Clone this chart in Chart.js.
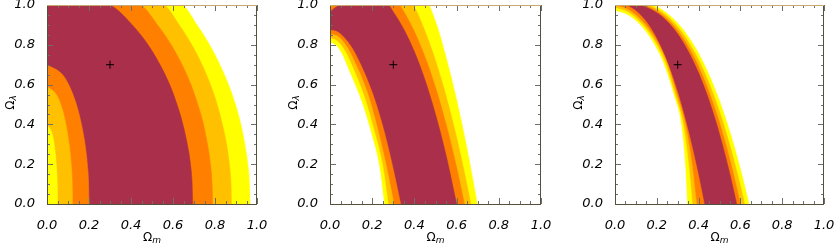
<!DOCTYPE html>
<html><head><meta charset="utf-8">
<script src="https://cdn.jsdelivr.net/npm/chart.js@4.4.1/dist/chart.umd.min.js"></script>
<style>
html,body{margin:0;padding:0;background:#fff;}
#wrap{position:relative;width:835px;height:243px;overflow:hidden;background:#fff;}
canvas{position:absolute;top:0;}
</style></head><body>
<div id="wrap">
<canvas id="c1" width="271" height="243" style="left:0px"></canvas>
<canvas id="c2" width="272" height="243" style="left:283px"></canvas>
<canvas id="c3" width="270" height="243" style="left:568px"></canvas>
</div>
<script>
// ---------- data ----------
const xTickValues = [0, 0.2, 0.4, 0.6, 0.8, 1.0];
const yTickValues = [0, 0.2, 0.4, 0.6, 0.8, 1.0];
const xTitle = ['Ω', 'm'];
const yTitle = ['Ω', 'λ'];
const bestFit = [[0.3, 0.7]];
const bandColors = ['#ffff00', '#ffc000', '#ff7f00', '#aa2f4a'];

// Panel 1 : outer boundaries (yellow, gold, orange, crimson)
const p1OuterYellow  = [[0,1.05],[0.641,1.0],[0.714,0.9],[0.774,0.8],[0.823,0.7],[0.864,0.6],[0.897,0.5],[0.923,0.4],[0.942,0.3],[0.956,0.2],[0.964,0.1],[0.967,0]];
const p1OuterGold    = [[0,1.05],[0.554,1.0],[0.629,0.9],[0.689,0.8],[0.738,0.7],[0.778,0.6],[0.810,0.5],[0.835,0.4],[0.855,0.3],[0.868,0.2],[0.876,0.1],[0.879,0]];
const p1OuterOrange  = [[0,1.05],[0.443,1.0],[0.526,0.9],[0.591,0.8],[0.643,0.7],[0.685,0.6],[0.718,0.5],[0.745,0.4],[0.764,0.3],[0.778,0.2],[0.786,0.1],[0.789,0]];
const p1OuterCrimson = [[0,1.05],[0.300,1.0],[0.406,0.9],[0.481,0.8],[0.538,0.7],[0.584,0.6],[0.619,0.5],[0.647,0.4],[0.668,0.3],[0.683,0.2],[0.691,0.1],[0.694,0]];
// Panel 1 : inner boundaries (orange, gold, yellow)
const p1InnerOrange  = [[0,0.70],[0.074,0.65],[0.103,0.6],[0.140,0.5],[0.164,0.4],[0.181,0.3],[0.192,0.2],[0.198,0.1],[0.200,0]];
const p1InnerGold    = [[0,0.59],[0.044,0.55],[0.065,0.5],[0.090,0.4],[0.105,0.3],[0.115,0.2],[0.120,0.1],[0.122,0]];
const p1InnerYellow  = [[0,0.40],[0.025,0.35],[0.034,0.3],[0.044,0.2],[0.049,0.1],[0.051,0]];

// Panel 2
const p2OuterYellow  = [[0,1.02],[0.2,1.09],[0.42,1.08],[0.5,0.917],[0.55,0.736],[0.6,0.522],[0.65,0.273],[0.698,0]];
const p2OuterGold    = [[0,1.0],[0.15,1.07],[0.35,1.05],[0.4,0.989],[0.45,0.868],[0.5,0.720],[0.55,0.542],[0.6,0.333],[0.65,0.091],[0.667,0]];
const p2OuterOrange  = [[0,0.985],[0.02,1.0],[0.15,1.05],[0.3,1.04],[0.35,0.966],[0.4,0.865],[0.45,0.739],[0.5,0.585],[0.55,0.400],[0.6,0.183],[0.637,0]];
const p2OuterCrimson = [[0,0.965],[0.03,0.99],[0.08,1.01],[0.15,1.03],[0.25,1.03],[0.3,0.965],[0.35,0.877],[0.4,0.765],[0.45,0.623],[0.5,0.450],[0.55,0.244],[0.6,0]];
const p2InnerOrange  = [[0,0.874],[0.04,0.862],[0.08,0.82],[0.12,0.755],[0.2,0.56],[0.25,0.39],[0.29,0.22],[0.335,0]];
const p2InnerGold    = [[0,0.854],[0.04,0.84],[0.08,0.79],[0.11,0.73],[0.18,0.55],[0.225,0.38],[0.265,0.2],[0.303,0]];
const p2InnerYellow  = [[0,0.833],[0.035,0.818],[0.07,0.77],[0.1,0.705],[0.165,0.53],[0.21,0.365],[0.25,0.19],[0.276,0]];
const p2InnerWhite   = [[0,0.81],[0.03,0.795],[0.06,0.745],[0.087,0.677],[0.15,0.512],[0.197,0.348],[0.234,0.184],[0.256,0]];

// Panel 3
const p3OuterYellow  = [[0,1.031],[0.1,1.025],[0.2,0.991],[0.25,0.957],[0.3,0.908],[0.35,0.842],[0.4,0.756],[0.45,0.648],[0.5,0.517],[0.55,0.360],[0.6,0.174],[0.641,0]];
const p3OuterGold    = [[0,1.023],[0.1,1.017],[0.2,0.980],[0.25,0.943],[0.3,0.889],[0.35,0.817],[0.4,0.723],[0.45,0.606],[0.5,0.463],[0.55,0.292],[0.6,0.090],[0.62,0]];
const p3OuterOrange  = [[0,1.017],[0.1,1.010],[0.2,0.970],[0.25,0.929],[0.3,0.871],[0.35,0.792],[0.4,0.690],[0.45,0.562],[0.5,0.407],[0.55,0.220],[0.6,0]];
const p3OuterCrimson = [[0,1.012],[0.1,1.005],[0.2,0.961],[0.25,0.917],[0.3,0.854],[0.35,0.768],[0.4,0.658],[0.45,0.520],[0.5,0.351],[0.55,0.148],[0.582,0]];
const p3InnerOrange  = [[0,1.006],[0.05,0.999],[0.1,0.970],[0.15,0.915],[0.2,0.830],[0.25,0.712],[0.3,0.559],[0.35,0.369],[0.4,0.140],[0.427,0]];
const p3InnerGold    = [[0,0.997],[0.06,0.978],[0.12,0.93],[0.18,0.852],[0.245,0.72],[0.293,0.56],[0.336,0.4],[0.368,0.2],[0.39,0]];
const p3InnerYellow  = [[0,0.985],[0.06,0.965],[0.12,0.915],[0.18,0.835],[0.24,0.71],[0.287,0.55],[0.326,0.4],[0.352,0.2],[0.37,0]];
const p3InnerWhite   = [[0,0.97],[0.06,0.95],[0.12,0.9],[0.18,0.815],[0.234,0.7],[0.28,0.55],[0.316,0.4],[0.335,0.2],[0.345,0]];

// ---------- chart building ----------
const FONT = '"DejaVu Sans", sans-serif';
const toXY = arr => arr.map(p => ({x: p[0], y: p[1]}));

function region(points, color, order) {
  return {
    type: 'line', data: toXY(points),
    fill: 'origin', backgroundColor: color, borderColor: color, borderWidth: 0.6,
    pointRadius: 0, pointHoverRadius: 0, cubicInterpolationMode: 'monotone', order: order
  };
}

const framePlugin = {
  id: 'frame',
  afterDatasetsDraw(chart) {
    const {ctx, chartArea: a, scales: {x, y}} = chart;
    ctx.save();
    ctx.lineWidth = 1;
    ctx.strokeStyle = '#6e6e6e';
    ctx.beginPath();
    for (let i = 0; i <= 20; i++) {
      const v = i * 0.05;
      const L = (i % 4 === 0) ? 6 : 3;
      const px = Math.round(x.getPixelForValue(v)) + 0.5;
      ctx.moveTo(px, a.bottom); ctx.lineTo(px, a.bottom - L);
      ctx.moveTo(px, a.top); ctx.lineTo(px, a.top + L);
      const py = Math.round(y.getPixelForValue(v)) + 0.5;
      ctx.moveTo(a.left, py); ctx.lineTo(a.left + L, py);
      ctx.moveTo(a.right, py); ctx.lineTo(a.right - L, py);
    }
    ctx.stroke();
    ctx.strokeStyle = '#55503c';
    ctx.beginPath();
    ctx.moveTo(a.left + 0.5, a.top); ctx.lineTo(a.left + 0.5, a.bottom + 0.5);
    ctx.lineTo(a.right - 0.5, a.bottom + 0.5); ctx.lineTo(a.right - 0.5, a.top);
    ctx.stroke();
    ctx.strokeStyle = '#c8aa6e';
    ctx.beginPath();
    ctx.moveTo(a.left, a.top + 0.5); ctx.lineTo(a.right, a.top + 0.5);
    ctx.stroke();
    ctx.restore();
  },
  afterDraw(chart) {
    const {ctx, chartArea: a} = chart;
    ctx.save();
    ctx.fillStyle = '#000';
    ctx.textBaseline = 'alphabetic';
    ctx.textAlign = 'left';
    const big = '12px ' + FONT, small = 'italic 9px ' + FONT;
    // x title
    ctx.font = big; const w1 = ctx.measureText(xTitle[0]).width;
    ctx.font = small; const w2 = ctx.measureText(xTitle[1]).width;
    let sx = (a.left + a.right) / 2 - (w1 + w2) / 2;
    ctx.font = big; ctx.fillText(xTitle[0], sx, 240.5);
    ctx.font = small; ctx.fillText(xTitle[1], sx + w1, 243);
    // y title
    ctx.font = big; const v1 = ctx.measureText(yTitle[0]).width;
    ctx.font = small; const v2 = ctx.measureText(yTitle[1]).width;
    ctx.translate(13.5, (a.top + a.bottom) / 2 - 2);
    ctx.rotate(-Math.PI / 2);
    const sy = -(v1 + v2) / 2;
    ctx.font = big; ctx.fillText(yTitle[0], sy, 0);
    ctx.font = small; ctx.fillText(yTitle[1], sy + v1, 2.5);
    ctx.restore();
  }
};

function makeChart(id, outer, inner, innerWhite) {
  const ds = [];
  let order = 20;
  outer.forEach((pts, i) => ds.push(region(pts, bandColors[i], order--)));
  inner.forEach((pts, i) => ds.push(region(pts, bandColors[2 - i], order--)));
  if (innerWhite) ds.push(region(innerWhite, '#ffffff', order--));
  ds.push({
    type: 'scatter', data: toXY(bestFit), pointStyle: 'cross', pointRadius: 4,
    borderColor: '#000', backgroundColor: '#000', borderWidth: 1, order: 0
  });
  new Chart(document.getElementById(id), {
    type: 'line',
    data: {datasets: ds},
    options: {
      responsive: false, animation: false, devicePixelRatio: 1,
      layout: {padding: {top: 1, right: 14, left: 0, bottom: 0}},
      plugins: {legend: {display: false}, tooltip: {enabled: false}},
      events: [],
      scales: {
        x: {
          type: 'linear', min: 0, max: 1,
          afterBuildTicks: s => { s.ticks = xTickValues.map(v => ({value: v})); },
          ticks: {callback: v => v.toFixed(1), color: '#000', padding: 6, maxRotation: 0,
                  font: {family: FONT, size: 13, style: 'italic'}},
          grid: {display: false}, border: {display: false},
          afterFit: s => { s.height = 39; s.paddingLeft = 0; s.paddingRight = 0; }
        },
        y: {
          type: 'linear', min: 0, max: 1,
          afterBuildTicks: s => { s.ticks = yTickValues.map(v => ({value: v})); },
          ticks: {callback: v => v.toFixed(1), color: '#000', padding: 4,
                  font: {family: FONT, size: 13, style: 'italic'}},
          grid: {display: false}, border: {display: false},
          afterFit: s => { s.width = 47; s.paddingTop = 0; s.paddingBottom = 0; }
        }
      }
    },
    plugins: [framePlugin]
  });
}

makeChart('c1', [p1OuterYellow, p1OuterGold, p1OuterOrange, p1OuterCrimson],
                [p1InnerOrange, p1InnerGold, p1InnerYellow], null);
makeChart('c2', [p2OuterYellow, p2OuterGold, p2OuterOrange, p2OuterCrimson],
                [p2InnerOrange, p2InnerGold, p2InnerYellow], p2InnerWhite);
makeChart('c3', [p3OuterYellow, p3OuterGold, p3OuterOrange, p3OuterCrimson],
                [p3InnerOrange, p3InnerGold, p3InnerYellow], p3InnerWhite);
</script>
</body></html>
